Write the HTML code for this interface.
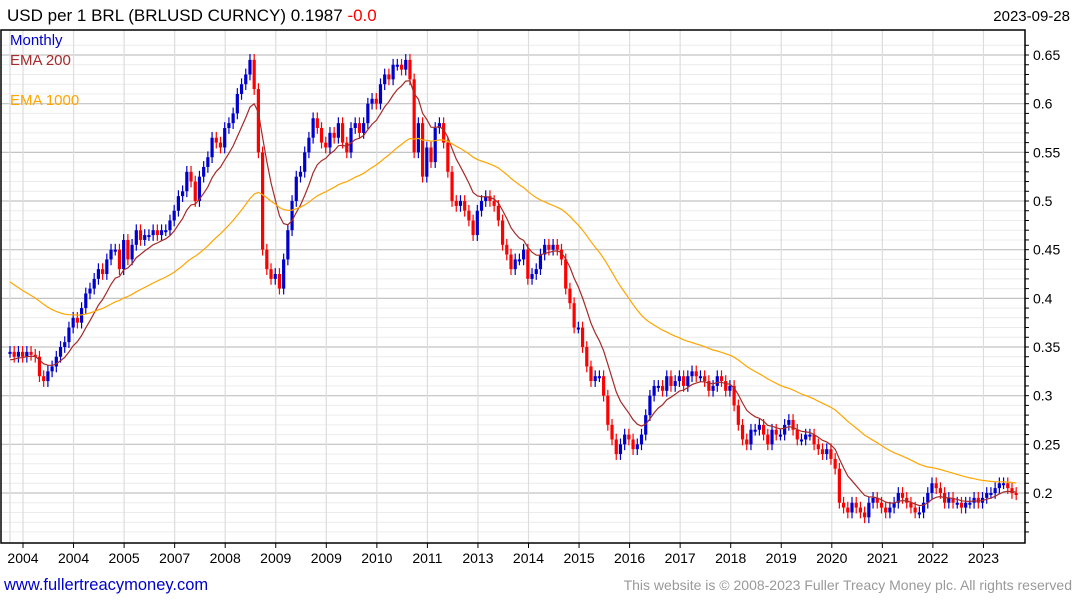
<!DOCTYPE html>
<html><head><meta charset="utf-8"><style>
body{margin:0;background:#fff;}
svg{display:block;font-family:"Liberation Sans","DejaVu Sans",sans-serif;}
</style></head><body>
<svg id="chart" width="1075" height="600" viewBox="0 0 1075 600" xmlns="http://www.w3.org/2000/svg">
<text x="7" y="21" font-size="17" fill="#000">USD per 1 BRL (BRLUSD CURNCY) 0.1987 <tspan fill="#ff0000">-0.0</tspan></text>
<text x="1070" y="21" font-size="15" fill="#000" text-anchor="end">2023-09-28</text>
<g id="grid"></g>
<g id="marks"></g>
<g id="emas"></g>
<rect x="1" y="30" width="1024" height="513" fill="none" stroke="#000" stroke-width="1.5"/>
<g id="axes"></g>
<text x="10" y="45" font-size="15" fill="#0000cc">Monthly</text>
<text x="10" y="65" font-size="15" fill="#a52a2a">EMA 200</text>
<text x="10" y="105" font-size="15" fill="#ffa500">EMA 1000</text>
<text x="4" y="590" font-size="16.5" fill="#0000cc">www.fullertreacymoney.com</text>
<text x="1072" y="590" font-size="14" fill="#999" text-anchor="end">This website is © 2008-2023 Fuller Treacy Money plc. All rights reserved</text>
</svg>
<script>
const closes=[
0.345,0.34,0.345,0.34,0.345,0.342,0.34,0.32,0.315,0.325,0.33,0.34,
0.35,0.355,0.37,0.38,0.375,0.39,0.405,0.41,0.42,0.43,0.425,0.44,
0.45,0.45,0.43,0.46,0.44,0.455,0.47,0.46,0.465,0.465,0.47,0.465,
0.47,0.47,0.48,0.49,0.505,0.51,0.53,0.52,0.50,0.525,0.535,0.545,
0.565,0.56,0.555,0.575,0.58,0.59,0.61,0.62,0.63,0.645,0.615,0.55,
0.45,0.43,0.42,0.425,0.41,0.44,0.47,0.5,0.525,0.53,0.55,0.565,
0.585,0.575,0.56,0.555,0.57,0.565,0.58,0.56,0.55,0.575,0.58,0.57,
0.58,0.6,0.605,0.6,0.62,0.63,0.625,0.64,0.64,0.635,0.645,0.625,
0.55,0.58,0.525,0.555,0.54,0.575,0.58,0.56,0.53,0.5,0.495,0.5,
0.49,0.48,0.465,0.49,0.5,0.505,0.5,0.495,0.48,0.455,0.445,0.43,
0.44,0.44,0.45,0.42,0.425,0.43,0.445,0.455,0.45,0.455,0.45,0.44,
0.41,0.395,0.37,0.37,0.35,0.33,0.315,0.32,0.32,0.3,0.27,0.255,
0.24,0.25,0.26,0.255,0.245,0.25,0.26,0.28,0.3,0.31,0.31,0.305,
0.32,0.31,0.315,0.32,0.31,0.32,0.325,0.32,0.32,0.315,0.305,0.31,
0.32,0.315,0.305,0.31,0.29,0.27,0.255,0.25,0.265,0.265,0.27,0.26,
0.25,0.265,0.26,0.26,0.27,0.275,0.265,0.255,0.255,0.26,0.26,0.25,
0.245,0.24,0.245,0.235,0.225,0.19,0.185,0.18,0.19,0.185,0.18,0.175,
0.19,0.195,0.19,0.185,0.18,0.185,0.19,0.2,0.195,0.19,0.185,0.18,
0.18,0.19,0.2,0.21,0.205,0.2,0.19,0.195,0.19,0.19,0.185,0.19,
0.19,0.195,0.19,0.195,0.2,0.2,0.205,0.21,0.21,0.205,0.2,0.1987];
const firstOpen=0.345;
const yTicks=[0.2,0.25,0.3,0.35,0.4,0.45,0.5,0.55,0.6,0.65];
const yTickLabels=["0.2","0.25","0.3","0.35","0.4","0.45","0.5","0.55","0.6","0.65"];
const xLabels=["2004","2004","2005","2007","2008","2009","2009","2010","2011","2013","2014","2015","2016","2017","2018","2019","2020","2021","2022","2023"];
const ema200Seed=0.335, ema200Period=10;
const ema1000Seed=0.42, ema1000Period=48;

const NS="http://www.w3.org/2000/svg";
const y=v=>493-(v-0.2)*973.3;
const x=i=>10+i*4.21;
const xl=k=>23+k*50.55;
function mk(tag,attrs,parent){const e=document.createElementNS(NS,tag);for(const k in attrs)e.setAttribute(k,attrs[k]);parent.appendChild(e);return e;}
const grid=document.getElementById('grid'),axes=document.getElementById('axes'),marks=document.getElementById('marks'),emas=document.getElementById('emas');
for(let v=0.16;v<=0.665;v+=0.01){const yy=y(v);if(yy<31||yy>542)continue;
 const l=mk('line',{x1:1,x2:1025,y1:yy,y2:yy,stroke:'#ececec','stroke-width':1},grid);
 
 const t=mk('line',{x1:1025,x2:1029,y1:yy,y2:yy,stroke:'#000','stroke-width':1},axes);
 }
yTicks.forEach((v,k)=>{const yy=y(v);
 const l=mk('line',{x1:1,x2:1025,y1:yy,y2:yy,stroke:'#c4c4c4','stroke-width':1.2},grid);
 
 const t=mk('text',{x:1033,y:yy+5,'font-size':14,fill:'#000'},axes);t.textContent=yTickLabels[k];
 });
{const l=mk('line',{x1:10,x2:10,y1:30,y2:543,stroke:'#ddd','stroke-width':1.2},grid);
 }
xLabels.forEach((s,k)=>{const xx=xl(k);
 const l=mk('line',{x1:xx,x2:xx,y1:30,y2:543,stroke:'#ddd','stroke-width':1.2},grid);
 
 const tk=mk('line',{x1:xx,x2:xx,y1:543,y2:548,stroke:'#000','stroke-width':1},axes);
 
 const t=mk('text',{x:xx,y:563,'font-size':14,fill:'#000','text-anchor':'middle'},axes);t.textContent=s;
 });
closes.forEach((c,i)=>{const o=i===0?firstOpen:closes[i-1];
 const up=c>=o,col=up?'#0000cc':'#ff0000';
 const hi=Math.max(o,c)+0.006,lo=Math.min(o,c)-0.006;const xx=x(i);
 const w=mk('line',{x1:xx,x2:xx,y1:y(hi),y2:y(lo),stroke:col,'stroke-width':1.2},marks);
 
 const top=y(Math.max(o,c)),h=Math.max(2,y(Math.min(o,c))-top);
 const b=mk('rect',{x:xx-1.6,y:top,width:3.2,height:h,fill:col},marks);
 });
function ema(seed,period){const a=2/(period+1);let e=seed;return closes.map(c=>(e=e+a*(c-e)));}
const e1=ema(ema200Seed,ema200Period),e2=ema(ema1000Seed,ema1000Period);
const p1=mk('path',{d:e1.map((v,i)=>(i?'L':'M')+x(i).toFixed(1)+' '+y(v).toFixed(1)).join(''),fill:'none',stroke:'#a52a2a','stroke-width':1.2},emas);

const p2=mk('path',{d:e2.map((v,i)=>(i?'L':'M')+x(i).toFixed(1)+' '+y(v).toFixed(1)).join(''),fill:'none',stroke:'#ffa500','stroke-width':1.2},emas);

</script>
</body></html>
